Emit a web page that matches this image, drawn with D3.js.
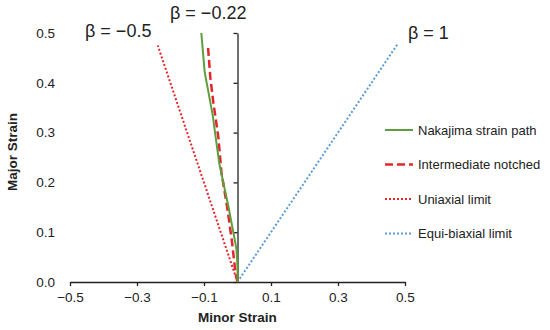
<!DOCTYPE html>
<html>
<head>
<meta charset="utf-8">
<script src="https://cdn.jsdelivr.net/npm/d3@7"></script>
<style>
  body { margin: 0; background: #fff; }
  text { font-family: "Liberation Sans", Arial, sans-serif; fill: #222; }
</style>
</head>
<body>
<div id="chart-area"></div>
<script>
// data: [minor strain, major strain]
var nakajima = [[0, 0], [0, 0.03], [-0.003, 0.065], [-0.008, 0.084], [-0.027, 0.151],
                [-0.054, 0.237], [-0.064, 0.285], [-0.074, 0.335], [-0.098, 0.422], [-0.108, 0.50]];
var notched = [[0, 0], [-0.006, 0.018], [-0.017, 0.084], [-0.031, 0.151], [-0.048, 0.22],
               [-0.057, 0.29], [-0.072, 0.36], [-0.081, 0.41], [-0.088, 0.472]];
var uniaxial = [[0, 0], [-0.238, 0.475]];
var biaxial = [[0, 0], [0.48, 0.48]];

var xTicks = [-0.5, -0.3, -0.1, 0.1, 0.3, 0.5];
var yTicks = [0, 0.1, 0.2, 0.3, 0.4, 0.5];
var seriesNames = ["Nakajima strain path", "Intermediate notched", "Uniaxial limit", "Equi-biaxial limit"];
var betaLabels = ["β = −0.5", "β = −0.22", "β = 1"];

var width = 550, height = 330;

var svg = d3.select("#chart-area")
  .append("svg")
    .attr("width", width)
    .attr("height", height);

// Scales
var x = d3.scaleLinear().domain([-0.5, 0.5]).range([70, 405]);
var y = d3.scaleLinear().domain([0, 0.5]).range([282, 33]);

// Axes
var xAxis = svg.append("g")
    .attr("transform", "translate(0," + y(0) + ")")
    .call(d3.axisBottom(x).tickValues(xTicks).tickSize(4).tickSizeOuter(0).tickFormat(d3.format(".1f")));
xAxis.selectAll("text").attr("font-size", "13.5px").attr("dy", "1em").attr("y", 6);

var yAxis = svg.append("g")
    .attr("transform", "translate(" + x(0) + ",0)")
    .call(d3.axisLeft(y).tickValues(yTicks).tickSize(4).tickSizeOuter(0).tickFormat(""));

svg.selectAll(".domain, .tick line").attr("stroke", "#222").attr("stroke-width", 1.3);
svg.selectAll(".tick text").attr("fill", "#222");

// y tick labels sit at the far left of the plot
svg.selectAll(".ylab")
  .data(yTicks)
  .enter().append("text")
    .attr("x", 55)
    .attr("y", d => y(d))
    .attr("dy", "0.35em")
    .attr("text-anchor", "end")
    .attr("font-size", "13.5px")
    .text(d3.format(".1f"));

// Axis titles
svg.append("text")
    .attr("x", x(0))
    .attr("y", 322)
    .attr("text-anchor", "middle")
    .attr("font-size", "13.5px")
    .attr("font-weight", "bold")
    .text("Minor Strain");
svg.append("text")
    .attr("transform", "translate(17,152) rotate(-90)")
    .attr("text-anchor", "middle")
    .attr("font-size", "13.5px")
    .attr("font-weight", "bold")
    .text("Major Strain");

// Lines
var line = d3.line().x(d => x(d[0])).y(d => y(d[1]));
var styles = [
  { data: nakajima, color: "#5e9e3e", width: 2, dash: null },
  { data: notched, color: "#e3262b", width: 2.5, dash: "8,4" },
  { data: uniaxial, color: "#e3262b", width: 2, dash: "2,2" },
  { data: biaxial, color: "#5b9bd5", width: 2, dash: "2,2" }
];

svg.selectAll(".series")
  .data(styles.slice().reverse())
  .enter().append("path")
    .attr("fill", "none")
    .attr("stroke", d => d.color)
    .attr("stroke-width", d => d.width)
    .attr("stroke-dasharray", d => d.dash)
    .attr("d", d => line(d.data));

// Legend
var legend = svg.selectAll(".legend")
  .data(styles)
  .enter().append("g")
    .attr("transform", (d, i) => "translate(385," + (130 + i * 34.5) + ")");
legend.append("line")
    .attr("x1", 0).attr("x2", 28)
    .attr("stroke", d => d.color)
    .attr("stroke-width", d => d.width)
    .attr("stroke-dasharray", d => d.dash);
legend.append("text")
    .attr("x", 33)
    .attr("dy", "0.35em")
    .attr("font-size", "13px")
    .text((d, i) => seriesNames[i]);

// Beta annotations
var betaPos = [[85, 37], [170, 18.5], [408, 39]];
svg.selectAll(".beta")
  .data(betaLabels)
  .enter().append("text")
    .attr("x", (d, i) => betaPos[i][0])
    .attr("y", (d, i) => betaPos[i][1])
    .attr("font-size", "18px")
    .text(d => d);
</script>
</body>
</html>
